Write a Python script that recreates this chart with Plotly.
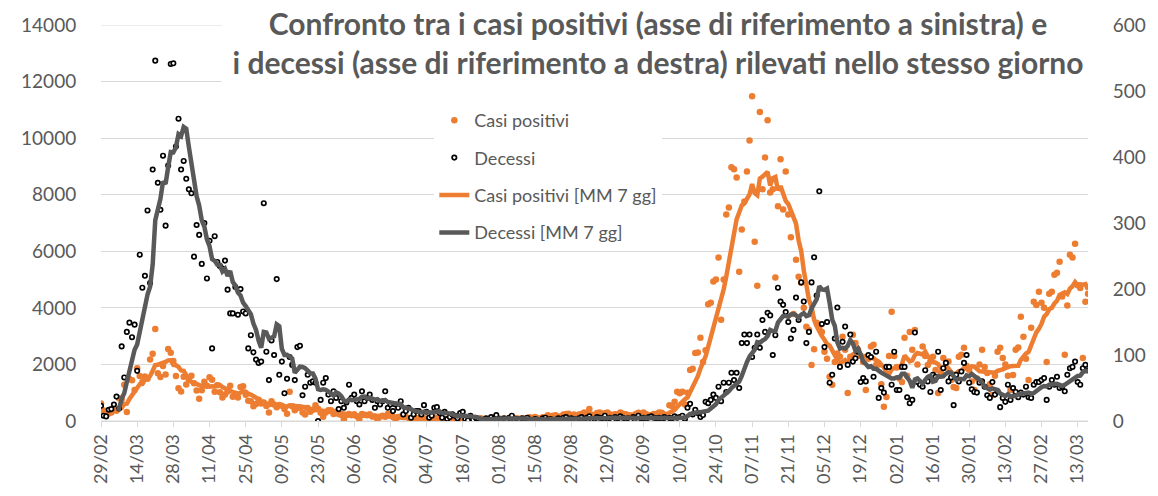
import pandas as pd
import plotly.graph_objects as go

# ---------------- data (Lombardia, 29/02/2020 -> 17/03/2021) ----------------
data_inizio = "2020-02-29"

casi_positivi = [
    615,
    # marzo 2020
    369, 270, 266, 300, 431, 361, 808, 769, 1280, 322, 1489, 1445, 1095, 1865, 1587, 1377, 1571, 1493, 2171, 2380,
    3251, 1691, 1555, 1942, 1643, 2543, 2409, 2117, 1592, 1154, 1047,
    # aprile
    1565, 1292, 1455, 1598, 1337, 1079, 791, 1089, 1388, 1246, 1544, 1460, 1037, 1262, 1012, 827, 941, 1041, 1246, 855,
    960, 827, 1200, 1232, 932, 713, 700, 520, 600, 750,
    # maggio
    620, 650, 526, 300, 700, 580, 490, 570, 540, 420, 260, 1030, 520, 380, 460, 480, 300, 230, 460, 330,
    400, 560, 430, 290, 150, 300, 380, 380, 250, 330, 250,
    # giugno
    210, 60, 200, 250, 200, 240, 170, 70, 250, 220, 200, 240, 160, 160, 40, 150, 190, 150, 250, 230,
    140, 60, 140, 160, 140, 140, 110, 100, 50, 90,
    # luglio
    100, 110, 90, 80, 70, 40, 120, 80, 60, 90, 70, 60, 30, 70, 110, 80, 90, 80, 60, 40,
    70, 80, 70, 90, 100, 60, 30, 80, 100, 120, 80,
    # agosto
    90, 70, 40, 60, 80, 100, 110, 90, 60, 40, 80, 110, 130, 110, 140, 100, 60, 130, 140, 200,
    160, 190, 200, 100, 170, 230, 250, 260, 200, 230, 120,
    # settembre
    230, 250, 300, 280, 420, 220, 150, 280, 300, 260, 270, 300, 230, 110, 240, 230, 300, 260, 240, 210,
    120, 180, 250, 290, 250, 300, 240, 120, 210, 250,
    # ottobre
    250, 300, 290, 230, 170, 560, 530, 680, 1030, 980, 1030, 580, 1000, 1800, 1850, 2400, 2420, 2940, 2090, 2500,
    4125, 4180, 4930, 5000, 5780, 3580, 5000, 7300, 7550, 8970, 8900,
    # novembre
    8610, 5280, 6770, 7760, 8820, 9920, 11480, 6340, 4780, 10920, 8190, 9320, 10630, 8080, 8190, 5070, 7590, 9250, 7480, 8820,
    7300, 6500, 3780, 5700, 5100, 4890, 4000, 3330, 3220, 1980,
    # dicembre
    2540, 3470, 3300, 3150, 2450, 2200, 1560, 1280, 2090, 2390, 2270, 2980, 2520, 990, 2270, 3050, 2760, 2520, 2300, 2090,
    1100, 2200, 2630, 2700, 1980, 2000, 1300, 500, 850, 2300, 3860,
    # gennaio 2021
    2300, 1910, 1500, 1380, 2940, 1600, 3150, 2520, 3220, 2000, 1350, 2630, 2300, 1980, 2100, 2270, 1800, 990, 1700, 2230,
    1900, 2100, 1450, 1200, 1170, 2270, 2340, 2590, 1950, 1800, 1400,
    # febbraio
    1100, 1500, 2000, 2520, 1910, 1700, 1300, 920, 1600, 2450, 2590, 2230, 2000, 1600, 1100, 1630, 2520, 2600, 3690, 2980,
    2200, 1450, 3300, 4220, 4100, 4570, 4180, 4000,
    # marzo 2021
    2090, 4500, 4570, 5170, 5240, 5630, 4400, 2340, 4080, 5880, 5780, 6270, 4800, 4700, 2230, 4220, 4500,
]

decessi = [
    23,
    # marzo 2020
    8, 7, 17, 18, 25, 37, 19, 113, 66, 135, 149, 127, 146, 76, 252, 202, 220, 319, 209, 381,
    546, 361, 320, 402, 296, 387, 541, 542, 416, 458, 381,
    # aprile
    394, 367, 351, 345, 249, 297, 282, 238, 300, 216, 273, 110, 280, 241, 235, 231, 243, 199, 163, 163,
    203, 161, 200, 166, 163, 110, 130, 104, 93, 88,
    # maggio
    90, 330, 105, 62, 122, 100, 215, 70, 90, 42, 64, 97, 85, 62, 112, 114, 39, 52, 70, 58,
    60, 58, 0, 32, 58, 65, 40, 30, 45, 35, 18,
    # giugno
    30, 20, 28, 55, 35, 40, 30, 25, 45, 30, 35, 40, 32, 20, 30, 25, 30, 45, 20, 25,
    15, 25, 20, 30, 10, 15, 20, 5, 10, 15,
    # luglio
    15, 10, 24, 14, 5, 8, 20, 21, 12, 5, 14, 3, 6, 10, 8, 4, 12, 14, 3, 1,
    8, 2, 5, 3, 2, 0, 4, 1, 6, 3, 9,
    # agosto
    3, 2, 4, 1, 5, 8, 2, 3, 1, 4, 3, 5, 2, 0, 3, 2, 1, 4, 5, 2,
    3, 1, 2, 4, 3, 5, 6, 2, 4, 3, 2,
    # settembre
    4, 6, 3, 5, 7, 2, 3, 6, 5, 4, 8, 3, 5, 2, 6, 4, 7, 5, 3, 4,
    2, 6, 5, 8, 4, 5, 3, 6, 7, 5,
    # ottobre
    4, 5, 3, 6, 2, 5, 4, 7, 5, 6, 8, 3, 20, 26, 10, 17, 12, 6, 9, 29,
    27, 32, 40, 35, 52, 30, 58, 44, 58, 73, 62,
    # novembre
    73, 50, 118, 131, 118, 131, 97, 111, 131, 111, 153, 135, 164, 160, 100, 130, 202, 181, 176, 165,
    150, 125, 138, 187, 153, 210, 181, 118, 135, 210,
    # dicembre
    248, 190, 348, 147, 112, 150, 58, 70, 125, 172, 82, 120, 143, 85, 131, 90, 95, 105, 59, 65,
    60, 100, 97, 67, 105, 35, 50, 43, 82, 82, 55,
    # gennaio 2021
    105, 47, 47, 82, 82, 36, 27, 32, 134, 59, 55, 52, 77, 60, 44, 70, 67, 105, 47, 80,
    88, 60, 66, 24, 70, 60, 75, 88, 100, 58, 48,
    # febbraio
    44, 43, 58, 60, 52, 39, 35, 59, 40, 45, 21, 35, 29, 55, 32, 50, 44, 36, 43, 40,
    52, 36, 35, 55, 59, 59, 62, 65,
    # marzo 2021
    32, 52, 62, 55, 67, 50, 52, 45, 70, 80, 82, 90, 59, 55, 80, 85, 77,
]

etichette_asse_x = [
    "29/02", "14/03", "28/03", "11/04", "25/04", "09/05", "23/05", "06/06", "20/06", "04/07",
    "18/07", "01/08", "15/08", "29/08", "12/09", "26/09", "10/10", "24/10", "07/11", "21/11",
    "05/12", "19/12", "02/01", "16/01", "30/01", "13/02", "27/02", "13/03",
]

tick_asse_sx = [0, 2000, 4000, 6000, 8000, 10000, 12000, 14000]
tick_asse_dx = [0, 100, 200, 300, 400, 500, 600]

titolo_riga1 = "Confronto tra i casi positivi (asse di riferimento a sinistra) e"
titolo_riga2 = "i decessi (asse di riferimento a destra) rilevati nello stesso giorno"

nomi_serie = ["Casi positivi", "Decessi", "Casi positivi [MM 7 gg]", "Decessi [MM 7 gg]"]

assert len(casi_positivi) == len(decessi) == 383

# ---------------- derived ----------------
date = pd.date_range(data_inizio, periods=len(casi_positivi), freq="D")
date_etichette = pd.date_range(data_inizio, periods=len(etichette_asse_x), freq="14D")
mm_casi = pd.Series(casi_positivi, index=date).rolling(7).mean()
mm_decessi = pd.Series(decessi, index=date).rolling(7).mean()

ARANCIO = "#ED7D31"
GRIGIO = "#595959"
GRIGLIA = "#D9D9D9"
FONT = "Lato, Carlito, Calibri, sans-serif"

fig = go.Figure()
fig.add_trace(go.Scatter(
    x=date, y=casi_positivi, mode="markers", name=nomi_serie[0], legendgroup="a",
    marker=dict(color=ARANCIO, size=6.5), yaxis="y",
))
fig.add_trace(go.Scatter(
    x=date, y=decessi, mode="markers", name=nomi_serie[1], legendgroup="b",
    marker=dict(color="white", size=4.4, line=dict(color="black", width=1.7)), yaxis="y2",
))
fig.add_trace(go.Scatter(
    x=date, y=mm_casi, mode="lines", name=nomi_serie[2], legendgroup="c",
    line=dict(color=ARANCIO, width=4.5), yaxis="y",
))
fig.add_trace(go.Scatter(
    x=date, y=mm_decessi, mode="lines", name=nomi_serie[3], legendgroup="d",
    line=dict(color=GRIGIO, width=4.5), yaxis="y2",
))

# plot area: x 101..1093 px, y 25..421 px
PL, PR, PT, PB = 101, 1093, 25, 421
def px_x(p):
    return (p - PL) / (PR - PL)
def px_y(p):
    return (PB - p) / (PB - PT)

forme = [
    # edge gridlines (0 and 14000), which plotly skips at the plot border
    dict(type="line", layer="below", xref="paper", yref="y", x0=0, x1=1,
         y0=tick_asse_sx[0], y1=tick_asse_sx[0], line=dict(color=GRIGLIA, width=1)),
    dict(type="line", layer="below", xref="paper", yref="y", x0=0, x1=1,
         y0=tick_asse_sx[-1], y1=tick_asse_sx[-1], line=dict(color=GRIGLIA, width=1)),
    # white area behind the legend (hides the gridlines there, as in the original)
    dict(type="rect", layer="between", xref="paper", yref="paper",
         x0=px_x(406), x1=px_x(723), y0=px_y(262), y1=px_y(98),
         fillcolor="white", line=dict(width=0)),
]

fig.update_layout(
    width=1158, height=496,
    margin=dict(l=PL, r=1158 - PR, t=PT, b=496 - PB),
    paper_bgcolor="white", plot_bgcolor="white",
    font=dict(family=FONT, color=GRIGIO),
    showlegend=True,
    legend=dict(
        x=px_x(436), y=px_y(102), xanchor="left", yanchor="top",
        bgcolor="white", font=dict(size=18, color=GRIGIO, family=FONT),
        traceorder="grouped", tracegroupgap=11, itemwidth=30,
    ),
    xaxis=dict(
        type="date", range=[date[0], date[-1]],
        tickmode="array", tickvals=list(date_etichette), ticktext=etichette_asse_x,
        tickangle=-90, ticks="outside", ticklen=5, tickcolor=GRIGLIA, tickwidth=1,
        showline=True, linecolor=GRIGLIA, linewidth=1, showgrid=False, zeroline=False,
        tickfont=dict(size=18, color=GRIGIO, family=FONT),
    ),
    yaxis=dict(
        range=[0, 14000], tickmode="array", tickvals=tick_asse_sx,
        ticktext=[str(v) for v in tick_asse_sx],
        showgrid=True, gridcolor=GRIGLIA, gridwidth=1,
        zeroline=False, showline=False, ticks="outside", ticklen=20, tickcolor="white",
        tickfont=dict(size=19, color=GRIGIO, family=FONT),
    ),
    yaxis2=dict(
        range=[0, 600], tickmode="array", tickvals=tick_asse_dx,
        ticktext=[str(v) for v in tick_asse_dx],
        overlaying="y", side="right", showgrid=False,
        zeroline=False, showline=False, ticks="outside", ticklen=20, tickcolor="white",
        tickfont=dict(size=19, color=GRIGIO, family=FONT),
    ),
    shapes=forme,
    annotations=[
        dict(text="<b>" + titolo_riga1 + "</b>", xref="paper", yref="paper",
             x=px_x(661), y=px_y(23), xanchor="center", yanchor="middle", showarrow=False,
             width=866, align="center", bgcolor="white", borderpad=2,
             font=dict(size=30, color=GRIGIO, family=FONT)),
        dict(text="<b>" + titolo_riga2 + "</b>", xref="paper", yref="paper",
             x=px_x(661), y=px_y(62), xanchor="center", yanchor="middle", showarrow=False,
             width=866, align="center", bgcolor="white", borderpad=3,
             font=dict(size=30, color=GRIGIO, family=FONT)),
    ],
)

fig.write_html("out.html", config={"displayModeBar": False},
               post_script="document.body.style.margin='0';")
